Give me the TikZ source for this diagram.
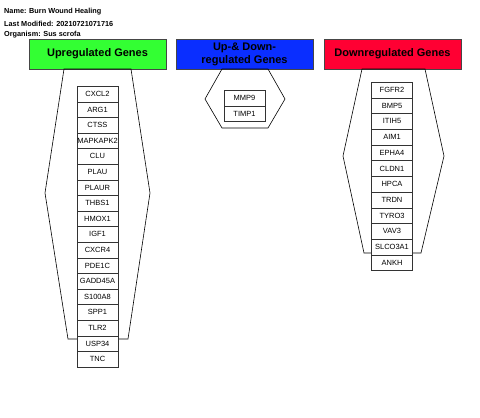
\documentclass[tikz,border=0pt]{standalone}
\usepackage{fontspec}
\setmainfont{Liberation Sans}
\definecolor{upgreen}{RGB}{51,255,51}
\definecolor{bothblue}{RGB}{10,46,255}
\definecolor{downred}{RGB}{255,0,51}
\definecolor{edgegray}{RGB}{70,70,70}
\begin{document}
\begin{tikzpicture}[x=1pt,y=-1pt,
  header/.style={draw=edgegray,line width=0.8pt,minimum width=137pt,minimum height=30pt,inner sep=0pt,align=center,font=\fontsize{11}{13}\selectfont\bfseries},
  gene/.style={draw=black!80,fill=white,line width=0.5pt,minimum width=41pt,minimum height=15.6pt,inner sep=0pt,font=\fontsize{7.5}{9}\selectfont},
  hexline/.style={draw=black,line width=0.6pt},
  titletext/.style={anchor=west,inner sep=0pt,font=\fontsize{7.3}{9}\selectfont\bfseries}]
\useasboundingbox (0,0) rectangle (480,418);
\node[titletext] (t1) at (4,12) {Name: Burn Wound Healing};
\node[titletext] (t2) at (4,23.5) {Last Modified: 20210721071716};
\node[titletext] (t3) at (4,35) {Organism: Sus scrofa};
% headers
\node[header,fill=upgreen] (hup) at (97.5,54) {Upregulated Genes};
\node[header,fill=bothblue] (hboth) at (244.5,54.5) {Up-\& Down-\\regulated Genes};
\node[header,fill=downred] (hdown) at (392.5,54) {Downregulated Genes};
% hexagons
\draw[hexline] (64,69) -- (131,69) -- (150,193) -- (128,339) -- (68,339) -- (45,193) -- cycle;
\draw[hexline] (222,69) -- (268,69) -- (285,99) -- (268,128) -- (222,128) -- (205,99) -- cycle;
\draw[hexline] (362,69) -- (425,69) -- (444,156) -- (421,253) -- (364,253) -- (343,156) -- cycle;
% up genes
\foreach \g [count=\i from 0] in {CXCL2,ARG1,CTSS,MAPKAPK2,CLU,PLAU,PLAUR,THBS1,HMOX1,IGF1,CXCR4,PDE1C,GADD45A,S100A8,SPP1,TLR2,USP34,TNC}
  \node[gene] (up\g) at (97.5,{94+15.6*\i}) {\g};
% both
\node[gene] (bMMP9) at (244.5,98) {MMP9};
\node[gene] (bTIMP1) at (244.5,113.6) {TIMP1};
% down genes
\foreach \g [count=\i from 0] in {FGFR2,BMP5,ITIH5,AIM1,EPHA4,CLDN1,HPCA,TRDN,TYRO3,VAV3,SLCO3A1,ANKH}
  \node[gene,minimum height=15.7pt] (dn\g) at (392,{90+15.7*\i}) {\g};
\end{tikzpicture}
\end{document}
